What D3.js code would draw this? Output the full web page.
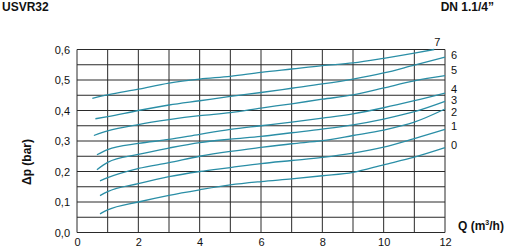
<!DOCTYPE html>
<html>
<head>
<meta charset="utf-8">
<script src="https://cdn.jsdelivr.net/npm/d3@7"></script>
<style>
  body { margin: 0; background: #fff; }
  svg { display: block; font-family: Arial, "Liberation Sans", sans-serif; }
</style>
</head>
<body>
<svg id="chart" width="508" height="250"></svg>
<script>
// Flow points (m3/h), one array per curve
var q7 = [0.5, 1, 2, 3, 4, 5, 6, 7, 8, 9, 10, 11, 11.65];
var dp7 = [0.44, 0.451, 0.47, 0.49, 0.503, 0.512, 0.525, 0.536, 0.547, 0.556, 0.571, 0.588, 0.6];
var qStd = [0, 1, 2, 3, 4, 5, 6, 7, 8, 9, 10, 11, 12];
var qStart = [0.6, 0.55, 0.65, 0.65, 0.75, 0.75, 0.75]; // first point of curves 6..0
var dp6 = [0.373, 0.38, 0.4, 0.418, 0.432, 0.446, 0.459, 0.473, 0.487, 0.503, 0.523, 0.549, 0.575];
var dp5 = [0.318, 0.333, 0.354, 0.37, 0.383, 0.393, 0.408, 0.422, 0.437, 0.451, 0.474, 0.497, 0.514];
var dp4 = [0.255, 0.272, 0.292, 0.305, 0.322, 0.338, 0.35, 0.362, 0.375, 0.389, 0.409, 0.432, 0.457];
var dp3 = [0.206, 0.23, 0.256, 0.277, 0.295, 0.306, 0.315, 0.327, 0.339, 0.353, 0.372, 0.396, 0.43];
var dp2 = [0.169, 0.18, 0.21, 0.229, 0.25, 0.266, 0.279, 0.291, 0.301, 0.318, 0.336, 0.362, 0.405];
var dp1 = [0.121, 0.134, 0.16, 0.183, 0.2, 0.213, 0.226, 0.236, 0.246, 0.26, 0.28, 0.308, 0.338];
var dp0 = [0.061, 0.074, 0.1, 0.122, 0.14, 0.156, 0.167, 0.176, 0.186, 0.197, 0.222, 0.247, 0.278];

var curveNames = ["7", "6", "5", "4", "3", "2", "1", "0"];
var xTicks = [0, 2, 4, 6, 8, 10, 12];
var yTicks = [0, 0.1, 0.2, 0.3, 0.4, 0.5, 0.6];

var colour = "#2a8ea6";

// build the point lists
var others = [dp6, dp5, dp4, dp3, dp2, dp1, dp0];
var series = [q7.map(function(q, i) { return [q, dp7[i]]; })];
others.forEach(function(arr, k) {
  series.push(arr.map(function(v, i) {
    return [i == 0 ? qStart[k] : qStd[i], v];
  }));
});

var svg = d3.select("#chart");

var plotLeft = 77, plotRight = 445, plotTop = 49.5, plotBottom = 232.5;

var x = d3.scaleLinear().domain([0, 12]).range([plotLeft, plotRight]);
var y = d3.scaleLinear().domain([0, 0.6]).range([plotBottom, plotTop]);

// grid: every 1 m3/h and every 0.05 bar
var grid = svg.append("g");
grid.selectAll(".vl")
  .data(d3.range(0, 13))
  .enter().append("line")
  .attr("x1", function(d) { return x(d); })
  .attr("x2", function(d) { return x(d); })
  .attr("y1", plotTop)
  .attr("y2", plotBottom)
  .attr("stroke", "#2a2a2a")
  .attr("stroke-width", 1);

grid.selectAll(".hl")
  .data(d3.range(0, 13).map(function(i) { return i * 0.05; }))
  .enter().append("line")
  .attr("x1", plotLeft)
  .attr("x2", plotRight)
  .attr("y1", function(d) { return y(d); })
  .attr("y2", function(d) { return y(d); })
  .attr("stroke", "#2a2a2a")
  .attr("stroke-width", 1);

// axes (labels only, the grid draws the frame)
var xAxis = svg.append("g")
  .attr("transform", "translate(0," + plotBottom + ")")
  .call(d3.axisBottom(x).tickValues(xTicks).tickSize(0).tickPadding(6));
var yAxis = svg.append("g")
  .attr("transform", "translate(" + plotLeft + ",0)")
  .call(d3.axisLeft(y).tickValues(yTicks).tickSize(0).tickPadding(7)
    .tickFormat(function(d) { return d3.format(".1f")(d).replace(".", ","); }));
[xAxis, yAxis].forEach(function(a) {
  a.select(".domain").remove();
  a.selectAll("text")
    .attr("font-size", 11)
    .attr("font-family", "Arial, 'Liberation Sans', sans-serif")
    .attr("fill", "#111");
});

// curves
var line = d3.line()
  .x(function(d) { return x(d[0]); })
  .y(function(d) { return y(d[1]); })
  .curve(d3.curveMonotoneX);

svg.append("g").selectAll("path")
  .data(series)
  .enter().append("path")
  .attr("d", line)
  .attr("fill", "none")
  .attr("stroke", colour)
  .attr("stroke-width", 1.3);

// curve labels at the right end
var labels = svg.append("g")
  .attr("font-size", 11)
  .attr("fill", "#111");
var end7 = series[0][series[0].length - 1];
labels.append("text")
  .attr("x", x(end7[0]) + 3)
  .attr("y", y(end7[1]) - 4)
  .attr("text-anchor", "middle")
  .text(curveNames[0]);
var labelY = [null, 59, 74, 92.5, 104, 115.5, 130, 149];
labelY.forEach(function(ly, i) {
  if (ly == null) return;
  labels.append("text")
    .attr("x", plotRight + 6)
    .attr("y", ly)
    .text(curveNames[i]);
});

// titles
svg.append("text")
  .attr("x", 2)
  .attr("y", 11)
  .attr("font-size", 12)
  .attr("font-weight", "bold")
  .attr("fill", "#111")
  .text("USVR32");

svg.append("text")
  .attr("x", 494)
  .attr("y", 11)
  .attr("text-anchor", "end")
  .attr("font-size", 12)
  .attr("font-weight", "bold")
  .attr("fill", "#111")
  .text("DN 1.1/4\u201d");

var qLabel = svg.append("text")
  .attr("x", 458)
  .attr("y", 230)
  .attr("font-size", 12)
  .attr("font-weight", "bold")
  .attr("fill", "#111");
qLabel.append("tspan").text("Q (m");
qLabel.append("tspan").attr("font-size", 7).attr("dy", -5).text("3");
qLabel.append("tspan").attr("dy", 5).text("/h)");

svg.append("text")
  .attr("transform", "translate(31,162) rotate(-90)")
  .attr("text-anchor", "middle")
  .attr("font-size", 12)
  .attr("font-weight", "bold")
  .attr("fill", "#111")
  .text("\u0394p (bar)");
</script>
</body>
</html>
